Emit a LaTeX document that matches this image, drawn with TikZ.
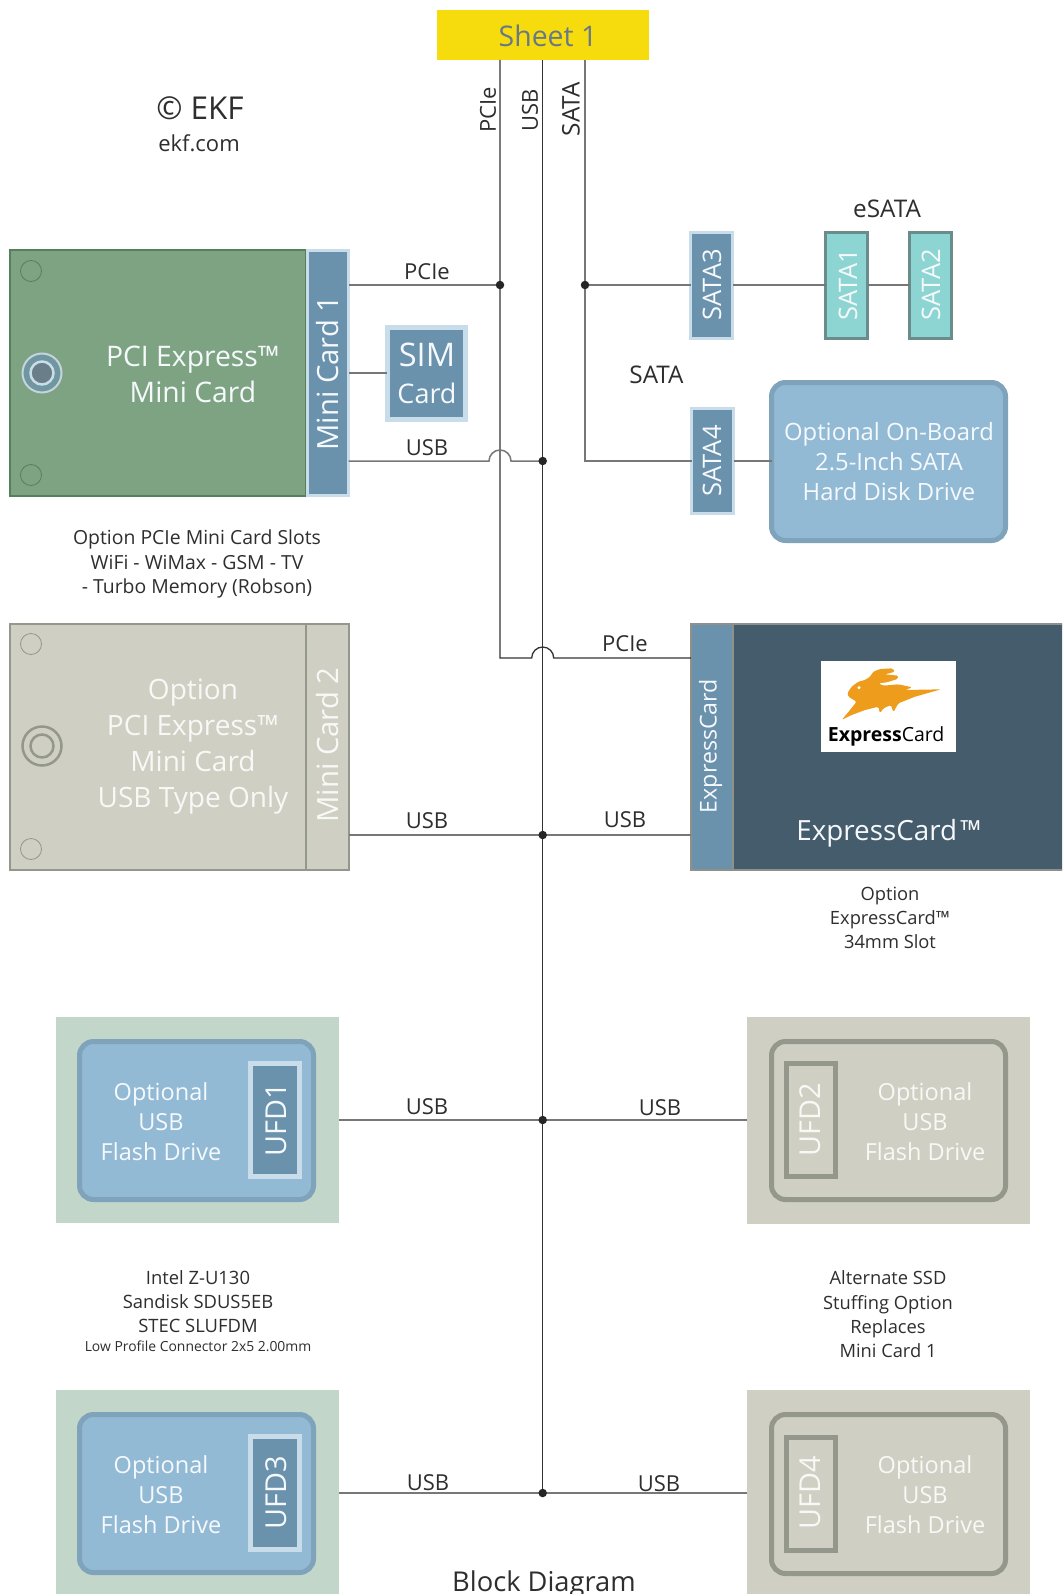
\documentclass[tikz,border=0pt]{standalone}
\usepackage{fontspec}
\setmainfont{Open Sans}
\definecolor{cGreen}{HTML}{7DA383}
\definecolor{cGreenB}{HTML}{567F5C}
\definecolor{cBlue}{HTML}{6B92AD}
\definecolor{cLight}{HTML}{C9DCEA}
\definecolor{cGray}{HTML}{CFD0C3}
\definecolor{cGrayB}{HTML}{94978C}
\definecolor{cDark}{HTML}{455C6C}
\definecolor{cEdge}{HTML}{8F9089}
\definecolor{cYellow}{HTML}{F7DC0D}
\definecolor{cSheet}{HTML}{66788A}
\definecolor{cTeal}{HTML}{8DD5D2}
\definecolor{cTealB}{HTML}{6A8C8B}
\definecolor{cDrive}{HTML}{92BAD5}
\definecolor{cDriveB}{HTML}{7FA3BB}
\definecolor{cMint}{HTML}{C2D7CA}
\definecolor{cOrange}{HTML}{EE9C1B}
\definecolor{cText}{HTML}{2E2E2E}
\definecolor{cWire}{HTML}{777777}
\definecolor{cBus}{HTML}{333333}
\newcommand{\placebox}[6]{\node[#6,minimum width={(#4-#2)*1pt},minimum height={(#5-#3)*1pt}] (#1) at ({(#2+#4)/2},{(#3+#5)/2}) {};}
\newcommand{\fs}[2]{\fontsize{#1}{#2}\selectfont}
\tikzset{
 boxbase/.style={rectangle,inner sep=0pt,outer sep=0pt,draw},
 cardgreen/.style={boxbase,fill=cGreen,draw=cGreenB,line width=2.5pt},
 cardgray/.style={boxbase,fill=cGray,draw=cGrayB,line width=2.5pt},
 slotblue/.style={boxbase,fill=cBlue,draw=cLight,line width=3pt},
 slotteal/.style={boxbase,fill=cTeal,draw=cTealB,line width=3pt},
 drive/.style={boxbase,fill=cDrive,draw=cDriveB,line width=5pt,rounded corners=14pt},
 drivegray/.style={boxbase,fill=cGray,draw=cGrayB,line width=5pt,rounded corners=14pt},
 slotgray/.style={boxbase,fill=cGray,draw=cGrayB,line width=5pt},
 slotufd/.style={boxbase,fill=cBlue,draw=cLight,line width=5pt},
 backmint/.style={rectangle,inner sep=0pt,outer sep=0pt,fill=cMint},
 backgray/.style={rectangle,inner sep=0pt,outer sep=0pt,fill=cGray},
 darkcard/.style={boxbase,fill=cDark,draw=cEdge,line width=2.5pt},
 bluecard/.style={boxbase,fill=cBlue,draw=cEdge,line width=2.5pt},
 sheetbox/.style={rectangle,inner sep=0pt,outer sep=0pt,fill=cYellow},
 wirethin/.style={draw=cWire,line width=1.5pt},
 wirebus/.style={draw=cBus,line width=1.3pt},
 dotj/.style={circle,fill=black!85,inner sep=0pt,minimum size=8.5pt,outer sep=0pt},
 holeg/.style={circle,draw=cGreenB,line width=.8pt,inner sep=0pt,minimum size=21pt},
 holegray/.style={circle,draw=cGrayB,line width=.8pt,inner sep=0pt,minimum size=21pt},
 lbl/.style={text=cText,inner sep=0pt,font=\fs{22}{26}},
 lblw/.style={text=cText,inner sep=0pt,font=\fs{24.3}{28}},
 capt/.style={text=cText,inner sep=0pt,align=center,font=\fs{19.4}{24.2}},
 wtxt/.style={text=white!92!cDrive,inner sep=0pt,align=center},
 gtxt/.style={text=white!85!cGray,inner sep=0pt,align=center},
}
\begin{document}
\begin{tikzpicture}[x=1pt,y=-1pt]
\path[use as bounding box,clip] (0,0) rectangle (1062,1594);
\fill[white] (0,0) rectangle (1062,1594);
% junction coordinates
\coordinate (jP1) at (500,285);
\coordinate (jS1) at (585,285);
\coordinate (jU1) at (542.7,461);
\coordinate (jU2) at (542.7,835);
\coordinate (jU3) at (542.7,1120);
\coordinate (jU4) at (542.7,1493);
\coordinate (cS) at (585,461);
\coordinate (cP) at (500,658);
\coordinate (hopA) at (489,461);
\coordinate (hopB) at (531.7,658);
\coordinate (simY) at (360,373);
% boxes
\placebox{sheet}{437}{10}{649}{60}{sheetbox}
\placebox{mc1card}{10}{250}{306}{496}{cardgreen}
\placebox{mc1}{307}{250.5}{348.5}{495.5}{slotblue}
\placebox{sim}{387}{327}{465}{419}{slotblue,line width=5pt}
\placebox{sata3}{690.5}{232.5}{732.5}{338}{slotblue}
\placebox{sata4}{691.5}{408.5}{733.5}{513.5}{slotblue}
\placebox{sata1}{825.5}{232.5}{867.5}{338}{slotteal}
\placebox{sata2}{909.5}{232.5}{951}{338}{slotteal}
\placebox{hdd}{771.5}{382.5}{1005.5}{540.5}{drive}
\placebox{mc2card}{10}{624}{306}{870}{cardgray}
\placebox{mc2}{306}{624}{349}{870}{cardgray}
\placebox{ecbody}{733}{624}{1075}{870}{darkcard}
\placebox{ec}{691}{624}{733}{870}{bluecard}
\placebox{logo}{821}{661}{956}{752}{rectangle,fill=white}
\placebox{b1}{56}{1017}{339}{1223}{backmint}
\placebox{d1}{79.5}{1041.5}{313.5}{1199.5}{drive}
\placebox{u1}{250.5}{1063.5}{299.5}{1176.5}{slotufd}
\placebox{b2}{747}{1017}{1030}{1224}{backgray}
\placebox{d2}{771.5}{1041.5}{1005.5}{1199.5}{drivegray}
\placebox{u2}{786.5}{1063.5}{835.5}{1176.5}{slotgray}
\placebox{b3}{56}{1390}{339}{1600}{backmint}
\placebox{d3}{79.5}{1414.5}{313.5}{1572.5}{drive}
\placebox{u3}{250.5}{1436.5}{299.5}{1549.5}{slotufd}
\placebox{b4}{747}{1390}{1030}{1600}{backgray}
\placebox{d4}{771.5}{1414.5}{1005.5}{1573.5}{drivegray}
\placebox{u4}{786.5}{1437.5}{835.5}{1550.5}{slotgray}
% connectors
\draw[wirebus] (jP1 |- sheet.south) -- (cP) -- (hopB) arc[start angle=180,delta angle=-180,radius=11pt] -- (cP -| ec.west);
\draw[wirebus] (jU1 |- sheet.south) -- (jU4);
\draw[wirethin] (jS1 |- sheet.south) -- (cS) -- (cS -| sata4.west);
\draw[wirethin] (jP1) -- (jP1 -| mc1.east);
\draw[wirethin] (jS1) -- (jS1 -| sata3.west);
\draw[wirethin] (sata3.east |- jS1) -- (jS1 -| sata1.west);
\draw[wirethin] (sata1.east |- jS1) -- (jS1 -| sata2.west);
\draw[wirethin] (sata4.east |- cS) -- (cS -| hdd.west);
\draw[wirethin] (mc1.east |- simY) -- (simY -| sim.west);
\draw[wirethin] (mc1.east |- jU1) -- (hopA) arc[start angle=180,delta angle=-180,radius=11pt] -- (jU1);
\draw[wirethin] (mc2.east |- jU2) -- (jU2) -- (jU2 -| ec.west);
\draw[wirethin] (b1.east |- jU3) -- (jU3) -- (jU3 -| b2.west);
\draw[wirethin] (b3.east |- jU4) -- (jU4) -- (jU4 -| b4.west);
\node[dotj] (dotP1) at (jP1) {};
\node[dotj] (dotS1) at (jS1) {};
\node[dotj] (dotU1) at (jU1) {};
\node[dotj] (dotU2) at (jU2) {};
\node[dotj] (dotU3) at (jU3) {};
\node[dotj] (dotU4) at (jU4) {};
% holes and sockets
\node[holeg] (h1) at (31,271) {};
\node[holeg] (h2) at (31,475) {};
\node[circle,fill=cBlue!70!cGreen,draw=white!60!cBlue,line width=2pt,minimum size=39pt,inner sep=0pt] (s1o) at (42,373) {};
\node[circle,fill=cSheet!85!cGreen,draw=cLight,line width=2.5pt,minimum size=23pt,inner sep=0pt] (s1i) at (42,373) {};
\node[holegray] (h3) at (31,644) {};
\node[holegray] (h4) at (31,849) {};
\node[circle,draw=cGrayB,line width=2.5pt,minimum size=39pt,inner sep=0pt] (s2o) at (42,746) {};
\node[circle,draw=cGrayB,line width=2.5pt,minimum size=23pt,inner sep=0pt] (s2i) at (42,746) {};
% sheet and top labels
\node[inner sep=0pt,text=cSheet,font=\fs{28.4}{32}] (tSheet) at (548,36) {Sheet 1};
\node[lbl,rotate=90] (tbP) at (488,110) {PCIe};
\node[lbl,rotate=90] (tbU) at (530,110) {USB};
\node[lblw,rotate=90] (tbS) at (571,109) {SATA};
\node[inner sep=0pt,text=cText,font=\fs{31.5}{35}] (tEKF) at (200,108) {© EKF};
\node[inner sep=0pt,text=cText,font=\fs{22}{26}] (tCom) at (199,143) {ekf.com};
% wire labels
\node[lbl] (l1) at (427,272) {PCIe};
\node[lbl] (l2) at (427,448) {USB};
\node[lblw] (l3) at (656.5,374.5) {SATA};
\node[lblw] (l4) at (887,208.5) {eSATA};
\node[lbl] (l5) at (625,644) {PCIe};
\node[lbl] (l6) at (427,821) {USB};
\node[lbl] (l7) at (625,820) {USB};
\node[lbl] (l8) at (427,1107) {USB};
\node[lbl] (l9) at (660,1108) {USB};
\node[lbl] (l10) at (428,1482.5) {USB};
\node[lbl] (l11) at (659,1483.5) {USB};
% box texts
\node[wtxt,font=\fs{28.3}{36}] (t1) at (193,374) {PCI Express™\\Mini Card};
\node[wtxt,rotate=90,font=\fs{29.2}{32}] (t2) at (328,373) {Mini Card 1};
\node[wtxt,font=\fs{32.5}{36}] (t3) at (427,355) {SIM};
\node[wtxt,font=\fs{27}{30}] (t4) at (427,393) {Card};
\node[wtxt,rotate=90,font=\fs{25.5}{30}] (t5) at (712,285) {SATA3};
\node[wtxt,rotate=90,font=\fs{25.5}{30}] (t6) at (712,461) {SATA4};
\node[wtxt,rotate=90,font=\fs{25.5}{30}] (t7) at (848,285) {SATA1};
\node[wtxt,rotate=90,font=\fs{25.5}{30}] (t8) at (931,285) {SATA2};
\node[wtxt,font=\fs{23.8}{30}] (t9) at (889,462) {Optional On-Board\\2.5-Inch SATA\\Hard Disk Drive};
\node[capt] (c1) at (197,564) {Option PCIe Mini Card Slots\\WiFi - WiMax - GSM - TV\\- Turbo Memory (Robson)};
\node[gtxt,font=\fs{28}{36}] (t10) at (193,747) {Option\\PCI Express™\\Mini Card\\USB Type Only};
\node[gtxt,rotate=90,font=\fs{29.3}{32}] (t11) at (328,745) {Mini Card 2};
\node[wtxt,rotate=90,font=\fs{23.2}{26}] (t12) at (710.5,746) {ExpressCard};
\node[wtxt,font=\fs{27.8}{32}] (t13) at (889,833.5) {ExpressCard\kern3pt™};
\node[capt,font=\fs{18.3}{23.7}] (c2) at (890,918) {Option\\ExpressCard™\\34mm Slot};
\node[wtxt,font=\fs{23.5}{30}] (t14) at (161,1122) {Optional\\USB\\Flash Drive};
\node[wtxt,rotate=90,font=\fs{28.8}{32}] (t15) at (276,1120) {UFD1};
\node[gtxt,font=\fs{23.5}{30}] (t16) at (925,1122) {Optional\\USB\\Flash Drive};
\node[gtxt,rotate=90,font=\fs{28.8}{32}] (t17) at (810,1120) {UFD2};
\node[wtxt,font=\fs{23.5}{30}] (t18) at (161,1495) {Optional\\USB\\Flash Drive};
\node[wtxt,rotate=90,font=\fs{28.8}{32}] (t19) at (276,1493) {UFD3};
\node[gtxt,font=\fs{23.5}{30}] (t20) at (925,1495) {Optional\\USB\\Flash Drive};
\node[gtxt,rotate=90,font=\fs{28.8}{32}] (t21) at (810,1493) {UFD4};
\node[capt,font=\fs{18.4}{24}] (c3) at (198,1302) {Intel Z-U130\\Sandisk SDUS5EB\\STEC SLUFDM};
\node[inner sep=0pt,text=cText,font=\fs{13.9}{16}] (c4) at (198,1346) {Low Profile Connector 2x5 2.00mm};
\node[capt,font=\fs{18.3}{24.3}] (c5) at (888,1314.5) {Alternate SSD\\Stuffing Option\\Replaces\\Mini Card 1};
\node[inner sep=0pt,anchor=base,text=cText,font=\fs{27.3}{30}] (tBD) at (544,1591) {Block Diagram};
% logo
\begin{scope}[shift={(815,655)},x=.3333pt,y=-.3333pt]
\fill[cOrange,rounded corners=1.5pt] (80,195) -- (105,165) -- (125,140) -- (100,125) -- (97,115) -- (110,95) -- (130,80) -- (150,75) -- (165,65) -- (175,50) -- (195,42) -- (232,40) -- (240,50) -- (210,58) -- (250,62) -- (248,72) -- (215,82) -- (190,85) -- (205,92) -- (250,88) -- (292,97) -- (270,105) -- (378,103) -- (300,125) -- (250,145) -- (235,172) -- (228,150) -- (205,160) -- (195,175) -- (190,155) -- (150,165) -- (110,180) -- cycle;
\fill[white] (132,98) circle[radius=5];
\node[inner sep=0pt,anchor=base west,text=black,font=\fs{19.5}{22}] (tLogo) at (38,261) {\textbf{Express}Card};
\end{scope}
\end{tikzpicture}
\end{document}
